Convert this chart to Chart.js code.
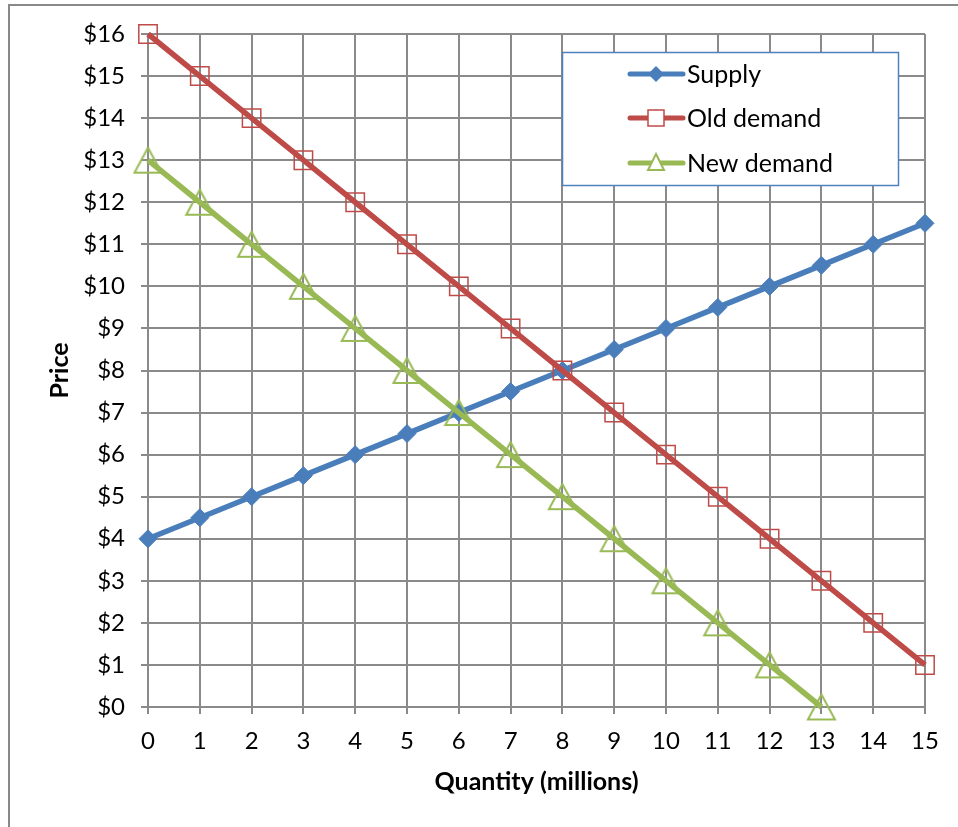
<!DOCTYPE html>
<html>
<head>
<meta charset="utf-8">
<script src="https://cdn.jsdelivr.net/npm/chart.js@4.4.1/dist/chart.umd.min.js"></script>
<style>
  html, body { margin: 0; padding: 0; background: #fff; }
  #wrap { position: relative; width: 958px; height: 827px; }
</style>
</head>
<body>
<div id="wrap"><canvas id="c" width="958" height="827"></canvas></div>
<script>
// Market data: quantity in millions, price in dollars
const quantities = [0, 1, 2, 3, 4, 5, 6, 7, 8, 9, 10, 11, 12, 13, 14, 15];
const supplyPrices = [4, 4.5, 5, 5.5, 6, 6.5, 7, 7.5, 8, 8.5, 9, 9.5, 10, 10.5, 11, 11.5];
const oldDemandPrices = [16, 15, 14, 13, 12, 11, 10, 9, 8, 7, 6, 5, 4, 3, 2, 1];
const newDemandPrices = [13, 12, 11, 10, 9, 8, 7, 6, 5, 4, 3, 2, 1, 0];
const seriesNames = ['Supply', 'Old demand', 'New demand'];

const BLUE = '#4a7ebb';
const RED = '#be4b48';
const GREEN = '#98b954';
const GRID = '#8a8a8a';
const FONT = 'Lato, "Open Sans", sans-serif';

function toPoints(ys) {
  return ys.map((y, i) => ({ x: quantities[i], y: y }));
}

// Hollow triangle marker as a small canvas
function triangleMarker(w, h, color, lw) {
  const cv = document.createElement('canvas');
  cv.width = w + lw * 2;
  cv.height = h + lw * 2;
  const ctx = cv.getContext('2d');
  ctx.strokeStyle = color;
  ctx.lineWidth = lw;
  ctx.beginPath();
  ctx.moveTo(lw + w / 2, lw);
  ctx.lineTo(lw + w, lw + h);
  ctx.lineTo(lw, lw + h);
  ctx.closePath();
  ctx.stroke();
  return cv;
}
const triImg = triangleMarker(27, 25, GREEN, 2);

// Outer frame of the chart
const framePlugin = {
  id: 'frame',
  beforeDraw(chart) {
    const ctx = chart.ctx;
    ctx.save();
    ctx.fillStyle = '#fff';
    ctx.fillRect(0, 0, chart.width, chart.height);
    ctx.strokeStyle = '#898989';
    ctx.lineWidth = 2;
    ctx.strokeRect(9, 5, chart.width + 20, chart.height + 20);
    ctx.restore();
  }
};

// Boxed legend inside the plot area
const legendBoxPlugin = {
  id: 'legendBox',
  afterDraw(chart) {
    const ctx = chart.ctx;
    const x0 = 562, y0 = 52, w = 337, h = 134;
    ctx.save();
    ctx.fillStyle = '#fff';
    ctx.fillRect(x0, y0, w, h);
    ctx.strokeStyle = '#4f81bd';
    ctx.lineWidth = 1.5;
    ctx.strokeRect(x0 + 0.5, y0 + 0.5, w - 1, h - 1);

    const rows = [74, 118, 163];
    const colors = [BLUE, RED, GREEN];
    rows.forEach((yy, i) => {
      ctx.strokeStyle = colors[i];
      ctx.lineWidth = 5;
      ctx.lineCap = 'round';
      ctx.beginPath();
      ctx.moveTo(630, yy);
      ctx.lineTo(683, yy);
      ctx.stroke();
      const cx = 656;
      if (i === 0) {
        ctx.fillStyle = BLUE;
        ctx.beginPath();
        ctx.moveTo(cx - 8, yy);
        ctx.lineTo(cx, yy - 8);
        ctx.lineTo(cx + 8, yy);
        ctx.lineTo(cx, yy + 8);
        ctx.closePath();
        ctx.fill();
      } else if (i === 1) {
        ctx.fillStyle = '#fff';
        ctx.fillRect(cx - 8, yy - 8, 16, 16);
        ctx.strokeStyle = RED;
        ctx.lineWidth = 1.5;
        ctx.strokeRect(cx - 8, yy - 8, 16, 16);
      } else {
        ctx.fillStyle = '#fff';
        ctx.strokeStyle = GREEN;
        ctx.lineWidth = 2;
        ctx.beginPath();
        ctx.moveTo(cx, yy - 9);
        ctx.lineTo(cx + 8, yy + 7);
        ctx.lineTo(cx - 8, yy + 7);
        ctx.closePath();
        ctx.fill();
        ctx.stroke();
      }
      ctx.fillStyle = '#000';
      ctx.font = '25px ' + FONT;
      ctx.textAlign = 'left';
      ctx.textBaseline = 'middle';
      ctx.fillText(seriesNames[i], 687, yy + 1);
    });
    ctx.restore();
  }
};

new Chart(document.getElementById('c'), {
  type: 'line',
  data: {
    datasets: [
      {
        label: seriesNames[0],
        data: toPoints(supplyPrices),
        borderColor: BLUE,
        backgroundColor: BLUE,
        borderWidth: 5.5,
        pointStyle: 'rectRot',
        pointRadius: 9,
        pointBorderWidth: 1,
        pointBackgroundColor: BLUE,
        pointBorderColor: BLUE,
        clip: false,
        order: 3
      },
      {
        label: seriesNames[1],
        data: toPoints(oldDemandPrices),
        borderColor: RED,
        backgroundColor: 'rgba(0,0,0,0)',
        borderWidth: 5.5,
        pointStyle: 'rect',
        pointRadius: 13,
        pointBorderWidth: 1.5,
        pointBackgroundColor: 'rgba(0,0,0,0)',
        pointBorderColor: RED,
        clip: false,
        order: 2
      },
      {
        label: seriesNames[2],
        data: toPoints(newDemandPrices),
        borderColor: GREEN,
        backgroundColor: GREEN,
        borderWidth: 5.5,
        pointStyle: triImg,
        pointRadius: 14,
        clip: false,
        order: 1
      }
    ]
  },
  options: {
    responsive: false,
    animation: false,
    devicePixelRatio: 1,
    events: [],
    layout: { padding: { left: 8, top: 34, right: 33, bottom: 0 } },
    plugins: {
      legend: { display: false },
      tooltip: { enabled: false }
    },
    scales: {
      x: {
        type: 'linear',
        min: 0,
        max: 15,
        afterFit(scale) { scale.height = 120; },
        ticks: {
          stepSize: 1,
          color: '#000',
          padding: 13,
          font: { family: FONT, size: 24 },
          maxRotation: 0
        },
        grid: { color: GRID, lineWidth: 2, tickLength: 7, tickColor: GRID },
        border: { color: GRID, width: 2 },
        title: {
          display: true,
          text: 'Quantity (millions)',
          color: '#000',
          font: { family: FONT, size: 25, weight: 'bold' },
          padding: 30
        }
      },
      y: {
        type: 'linear',
        min: 0,
        max: 16,
        afterFit(scale) { scale.width = 140; },
        ticks: {
          stepSize: 1,
          color: '#000',
          padding: 16,
          font: { family: FONT, size: 24 },
          callback: (v) => '$' + v
        },
        grid: { color: GRID, lineWidth: 2, tickLength: 7, tickColor: GRID },
        border: { color: GRID, width: 2 },
        title: {
          display: true,
          text: 'Price',
          color: '#000',
          font: { family: FONT, size: 25, weight: 'bold' },
          padding: 37
        }
      }
    }
  },
  plugins: [framePlugin, legendBoxPlugin]
});
</script>
</body>
</html>
